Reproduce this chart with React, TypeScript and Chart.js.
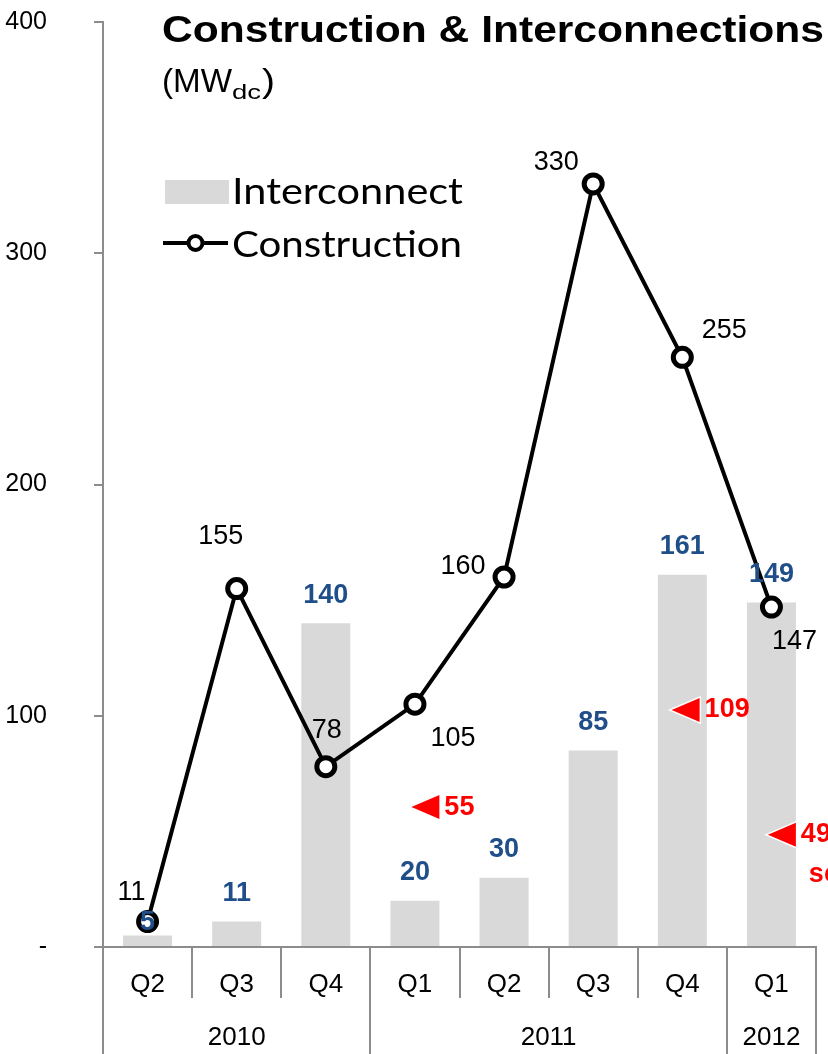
import { useEffect, useRef } from "react";
import { Chart, registerables } from "chart.js";

Chart.register(...registerables);

// Quarterly categories and the years they belong to
const quarters = ["Q2", "Q3", "Q4", "Q1", "Q2", "Q3", "Q4", "Q1"];
const yearLabels = ["2010", "2011", "2012"];
const yearQuarterCounts = [3, 4, 1];

// MWdc per quarter
const interconnect = [5, 11, 140, 20, 30, 85, 161, 149];
const construction = [11, 155, 78, 105, 160, 330, 255, 147];

// Red call-outs
const noteValues = [55, 109, 49];
const noteTails = ["", "", "se"];

const yTicks = [0, 100, 200, 300, 400];

// Placement of call-outs (category slot, MW level) and of line labels (px offsets)
const noteAnchors = [
  { slot: 2.96, level: 60.5 },
  { slot: 5.88, level: 102.5 },
  { slot: 6.96, level: 48.5 },
];
const constructionLabelOffsets: [number, number][] = [
  [-16, -29],
  [-16, -52],
  [1, -36],
  [38, 34],
  [-41, -10],
  [-37, -21],
  [42, -27],
  [23, 34],
];

const FONT = '"Liberation Sans", Arial, Helvetica, sans-serif';
const LEGEND_FONT = 'Lato, "Open Sans", sans-serif';
const AXIS_GRAY = "#8c8c8c";
const BAR_GRAY = "#d9d9d9";
const BLUE = "#1f4e89";
const RED = "#ff0000";

function fitText(ctx: CanvasRenderingContext2D, text: string, x: number, y: number, width: number) {
  const m = ctx.measureText(text).width;
  ctx.save();
  ctx.translate(x, y);
  ctx.scale(width / m, 1);
  ctx.textAlign = "left";
  ctx.fillText(text, 0, 0);
  ctx.restore();
}

const decorations = {
  id: "decorations",
  afterDatasetsDraw(chart: any) {
    const ctx: CanvasRenderingContext2D = chart.ctx;
    const xs = chart.scales.x;
    const ys = chart.scales.y;
    const area = chart.chartArea;
    const step = xs.getPixelForValue(1) - xs.getPixelForValue(0);
    const slotX = (s: number) => xs.getPixelForValue(0) + s * step;
    const edgeX = (k: number) => slotX(k - 0.5);

    ctx.save();

    // Category separators below the axis
    const yearEdges = new Set<number>([0]);
    let acc = 0;
    yearQuarterCounts.forEach((n) => {
      acc += n;
      yearEdges.add(acc);
    });
    ctx.strokeStyle = AXIS_GRAY;
    ctx.lineWidth = 2;
    for (let k = 0; k <= quarters.length; k++) {
      const x = Math.round(edgeX(k));
      const long = yearEdges.has(k);
      ctx.beginPath();
      ctx.moveTo(x, area.bottom);
      ctx.lineTo(x, long ? chart.height : area.bottom + 51);
      ctx.stroke();
    }

    // Quarter and year labels
    ctx.fillStyle = "#000";
    ctx.textAlign = "center";
    ctx.textBaseline = "middle";
    ctx.font = `26px ${FONT}`;
    quarters.forEach((q, i) => ctx.fillText(q, slotX(i), area.bottom + 38));
    acc = 0;
    yearLabels.forEach((y, i) => {
      const mid = (edgeX(acc) + edgeX(acc + yearQuarterCounts[i])) / 2;
      ctx.fillText(y, mid, area.bottom + 91);
      acc += yearQuarterCounts[i];
    });

    // Bar value labels
    ctx.font = `bold 27px ${FONT}`;
    ctx.fillStyle = BLUE;
    interconnect.forEach((v, i) => {
      const top = ys.getPixelForValue(v);
      ctx.fillText(String(v), slotX(i), top + (i === 0 ? -13 : -28));
    });

    // Line value labels
    ctx.font = `27px ${FONT}`;
    ctx.fillStyle = "#000";
    construction.forEach((v, i) => {
      const [dx, dy] = constructionLabelOffsets[i];
      ctx.fillText(String(v), slotX(i) + dx, ys.getPixelForValue(v) + dy);
    });

    // Red call-outs
    ctx.font = `bold 27px ${FONT}`;
    noteValues.forEach((v, i) => {
      const tipX = slotX(noteAnchors[i].slot);
      const cy = ys.getPixelForValue(noteAnchors[i].level);
      ctx.beginPath();
      ctx.moveTo(tipX, cy);
      ctx.lineTo(tipX + 28, cy - 12);
      ctx.lineTo(tipX + 28, cy + 12);
      ctx.closePath();
      ctx.lineJoin = "miter";
      ctx.strokeStyle = "#fff";
      ctx.lineWidth = 3;
      ctx.stroke();
      ctx.fillStyle = RED;
      ctx.fill();
      ctx.textAlign = "left";
      ctx.fillText(String(v), tipX + 33, cy);
      if (noteTails[i]) ctx.fillText(noteTails[i], tipX + 41, cy + 40);
    });

    // Title and unit
    ctx.fillStyle = "#000";
    ctx.textBaseline = "alphabetic";
    ctx.font = `bold 37px ${FONT}`;
    fitText(ctx, "Construction & Interconnections", 162, 42, 662);
    ctx.font = `33px ${FONT}`;
    fitText(ctx, "(MW", 162, 92, 70);
    ctx.font = `21px ${FONT}`;
    fitText(ctx, "dc", 232, 99, 29);
    ctx.font = `33px ${FONT}`;
    fitText(ctx, ")", 262, 92, 13);

    // Legend
    ctx.fillStyle = BAR_GRAY;
    ctx.fillRect(165, 180, 64, 24);
    ctx.strokeStyle = "#000";
    ctx.lineWidth = 4;
    ctx.beginPath();
    ctx.moveTo(163, 243);
    ctx.lineTo(228, 243);
    ctx.stroke();
    ctx.beginPath();
    ctx.arc(195.5, 243, 7, 0, Math.PI * 2);
    ctx.fillStyle = "#fff";
    ctx.fill();
    ctx.lineWidth = 4;
    ctx.stroke();
    ctx.fillStyle = "#000";
    ctx.textBaseline = "middle";
    ctx.font = `37px ${LEGEND_FONT}`;
    fitText(ctx, "Interconnect", 232, 192, 231);
    fitText(ctx, "Construction", 232, 245, 230);

    ctx.restore();
  },
};

export default function App() {
  const canvasRef = useRef<HTMLCanvasElement | null>(null);

  useEffect(() => {
    document.body.style.margin = "0";
    const canvas = canvasRef.current;
    if (!canvas) return;
    const chart = new Chart(canvas, {
      type: "bar",
      data: {
        labels: quarters,
        datasets: [
          {
            type: "line",
            label: "Construction",
            data: construction,
            borderColor: "#000",
            borderWidth: 4,
            pointRadius: 9,
            pointBorderWidth: 5,
            pointBackgroundColor: "#fff",
            pointBorderColor: "#000",
            tension: 0,
            clip: false,
            order: 0,
          },
          {
            type: "bar",
            label: "Interconnect",
            data: interconnect,
            backgroundColor: BAR_GRAY,
            barPercentage: 0.55,
            categoryPercentage: 1,
            order: 1,
          },
        ],
      },
      options: {
        animation: false,
        responsive: true,
        maintainAspectRatio: false,
        layout: { autoPadding: false, padding: { top: 22, right: 12, left: 0, bottom: 0 } },
        plugins: {
          legend: { display: false },
          title: { display: false },
          tooltip: { enabled: false },
        },
        scales: {
          x: {
            offset: true,
            grid: { display: false },
            ticks: { display: false },
            border: { display: true, color: AXIS_GRAY, width: 2 },
            afterFit: (s: any) => {
              s.height = 107;
              s.paddingLeft = 0;
              s.paddingRight = 0;
            },
          },
          y: {
            min: 0,
            max: 400,
            afterBuildTicks: (s: any) => {
              s.ticks = yTicks.map((v) => ({ value: v }));
            },
            ticks: {
              callback: (v: any) => (Number(v) === 0 ? "-" : String(v)),
              color: "#000",
              font: { family: FONT, size: 25 },
              padding: 47,
            },
            grid: {
              drawOnChartArea: false,
              drawTicks: true,
              tickLength: 9,
              color: AXIS_GRAY,
              lineWidth: 2,
            },
            border: { display: true, color: AXIS_GRAY, width: 2 },
            afterFit: (s: any) => {
              s.width = 103;
              s.paddingTop = 0;
              s.paddingBottom = 0;
            },
          },
        },
      },
      plugins: [decorations],
    });
    return () => chart.destroy();
  }, []);

  return (
    <div style={{ width: 828, height: 1054, position: "relative" }}>
      <canvas ref={canvasRef} />
    </div>
  );
}
